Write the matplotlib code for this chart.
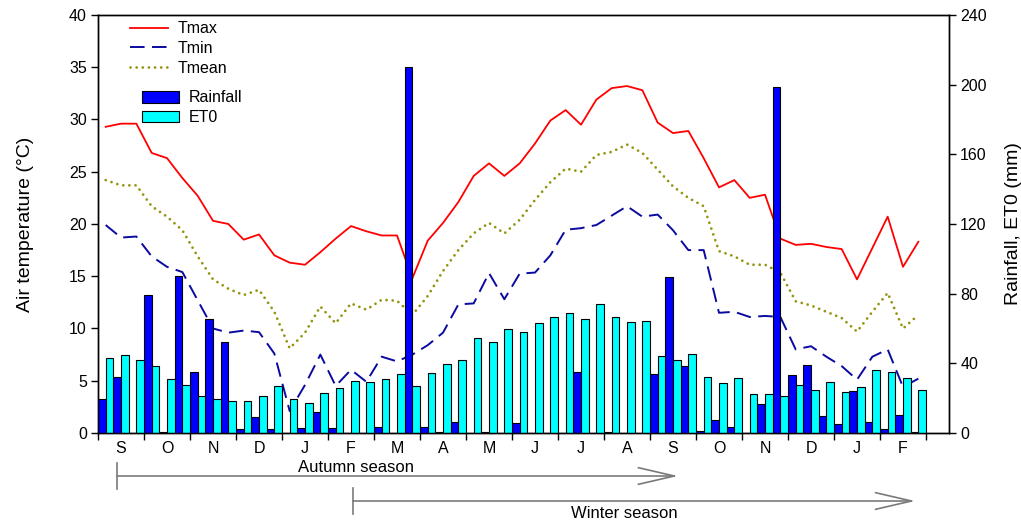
import matplotlib
matplotlib.use("Agg")
import matplotlib.pyplot as plt
import matplotlib.transforms as mtransforms
from matplotlib.lines import Line2D
from matplotlib.patches import Patch, FancyArrowPatch
import numpy as np

plt.rcParams['font.family'] = ['Liberation Sans', 'DejaVu Sans']

# dekadal (10-day) data, Sept (year 1) to Feb (year 3)
months = ['S', 'O', 'N', 'D', 'J', 'F', 'M', 'A', 'M', 'J', 'J', 'A',
          'S', 'O', 'N', 'D', 'J', 'F']

tmax = [29.3, 29.6, 29.6, 26.8, 26.3, 24.4, 22.7, 20.3, 20.0, 18.5, 19.0, 17.0,
        16.3, 16.1, 17.3, 18.6, 19.8, 19.3, 18.9, 18.9, 14.8, 18.4, 20.1, 22.1,
        24.6, 25.8, 24.6, 25.8, 27.7, 29.9, 30.9, 29.5, 31.9, 33.0, 33.2, 32.8,
        29.7, 28.7, 28.9, 26.3, 23.5, 24.2, 22.5, 22.8, 18.6, 18.0, 18.1, 17.8,
        17.6, 14.7, 17.7, 20.7, 15.9, 18.3]

tmin = [19.9, 18.7, 18.8, 16.9, 15.9, 15.4, 12.7, 10.0, 9.6, 9.8, 9.65, 7.6,
        2.1, 4.6, 7.5, 4.5, 6.05, 4.9, 7.3, 6.85, 7.5, 8.4, 9.6, 12.3,
        12.4, 15.3, 12.8, 15.25, 15.35, 17.0, 19.45, 19.6, 19.9, 20.8, 21.7, 20.7,
        20.9, 19.4, 17.5, 17.5, 11.5, 11.6, 11.1, 11.2, 11.1, 8.0, 8.3, 7.3,
        6.4, 5.1, 7.3, 8.0, 4.4, 5.2]

tmean = [24.2, 23.7, 23.7, 21.7, 20.7, 19.4, 16.9, 14.7, 13.8, 13.2, 13.7, 11.6,
         8.1, 9.6, 12.1, 10.5, 12.4, 11.8, 12.75, 12.65, 11.3, 13.1, 15.5, 17.5,
         19.1, 20.1, 19.1, 20.4, 22.3, 24.0, 25.3, 25.0, 26.6, 26.9, 27.6, 26.8,
         25.2, 23.6, 22.5, 21.7, 17.4, 16.9, 16.1, 16.1, 15.35, 12.6, 12.2, 11.6,
         11.0, 9.7, 11.6, 13.4, 10.0, 11.3]

rainfall = [19.3, 32.1, 0, 79.4, 0.4, 89.9, 35.0, 65.6, 52.2, 2.5, 9.0, 2.5,
            0, 2.9, 12.3, 3.1, 0, 0, 3.4, 0, 210, 3.6, 0.8, 6.5,
            0, 0.8, 0, 5.7, 0, 0, 0, 34.8, 0, 0.4, 0, 0,
            33.9, 89.7, 38.6, 1.0, 7.3, 3.4, 0, 16.6, 198.5, 33.3, 39.2, 9.9,
            5.4, 23.9, 6.1, 2.5, 10.1, 0.8]

et0 = [43.0, 45.0, 41.7, 38.5, 31.2, 27.7, 21.4, 19.5, 18.6, 18.6, 21.4, 26.8,
       19.3, 17.4, 23.1, 26.0, 29.8, 29.3, 31.1, 33.7, 26.8, 34.2, 39.6, 41.9,
       54.5, 52.0, 59.5, 58.0, 63.1, 66.4, 69.0, 65.5, 74.0, 66.4, 63.5, 64.2,
       44.4, 42.1, 45.3, 31.9, 28.7, 31.4, 22.4, 22.4, 21.4, 27.7, 24.5, 29.1,
       23.3, 26.2, 36.3, 35.2, 31.6, 24.5]

n = len(tmax)
x = np.arange(n)

fig = plt.figure(figsize=(10.21, 5.24), dpi=100)
ax = fig.add_axes([0.096, 0.1737, 0.8335, 0.7977])
ax2 = ax.twinx()

# temperature lines (left axis)
ax.plot(x + 0.5, tmax, color='#ff0000', lw=1.3, label='Tmax')
ax.plot(x + 0.5, tmin, color='#0a0aa0', lw=1.4, linestyle=(0, (7.5, 3.8)), label='Tmin')
ax.plot(x + 0.5, tmean, color='#949410', lw=2.0, linestyle=(0, (0.01, 2.2)),
        dash_capstyle='round', label='Tmean')

# rainfall and ET0 bars (right axis)
ax2.bar(x + 0.25, rainfall, width=0.5, color='#0000ff', edgecolor='black', lw=0.8)
ax2.bar(x + 0.75, et0, width=0.5, color='#00ffff', edgecolor='black', lw=0.8)

ax.set_xlim(0, 55.5)
ax.set_ylim(0, 40)
ax2.set_ylim(0, 240)
ax.set_yticks(np.arange(0, 41, 5))
ax2.set_yticks(np.arange(0, 241, 40))

ax.set_xticks(np.arange(0, n + 1, 3))
ax.set_xticklabels([])
ax.set_xticks(np.arange(len(months)) * 3 + 1.5, minor=True)
ax.set_xticklabels(months, minor=True)
ax.tick_params(axis='x', which='major', direction='out', length=5, width=1)
ax.tick_params(axis='x', which='minor', length=0, pad=6, labelsize=11.5)
ax.tick_params(axis='y', direction='out', length=5, width=1, labelsize=11.5, pad=3)
ax2.tick_params(axis='y', direction='out', length=5, width=1, labelsize=11.5, pad=3)

ax.set_ylabel('Air temperature (°C)', fontsize=14, labelpad=25)
ax2.set_ylabel('Rainfall, ET0 (mm)', fontsize=14, labelpad=13)

for a in (ax, ax2):
    for s in a.spines.values():
        s.set_linewidth(1.0)

# legends
line_handles = [Line2D([], [], color='#ff0000', lw=1.3),
                Line2D([], [], color='#0a0aa0', lw=1.4, linestyle=(0, (7.5, 3.8))),
                Line2D([], [], color='#949410', lw=2.0, linestyle=(0, (0.01, 2.2)),
                       dash_capstyle='round')]
leg1 = ax2.legend(line_handles, ['Tmax', 'Tmin', 'Tmean'], loc='upper left',
                  bbox_to_anchor=(0.0376, 0.985), frameon=False, fontsize=11.5,
                  handlelength=2.4, handletextpad=0.55, labelspacing=0.3,
                  borderpad=0, borderaxespad=0)
ax2.add_artist(leg1)
bar_handles = [Patch(facecolor='#0000ff', edgecolor='black', lw=0.8),
               Patch(facecolor='#00ffff', edgecolor='black', lw=0.8)]
ax2.legend(bar_handles, ['Rainfall', 'ET0'], loc='upper left',
           bbox_to_anchor=(0.0517, 0.82), frameon=False, fontsize=11.5,
           handlelength=2.3, handleheight=0.75, handletextpad=0.6, labelspacing=0.3,
           borderpad=0, borderaxespad=0)

# season arrows under the axis
trans = mtransforms.blended_transform_factory(ax.transData, fig.transFigure)
seasons = [('Autumn season', 1.24, 37.83, 1 - 476 / 524, 16.8, 1 - 467 / 524),
           ('Winter season', 16.63, 53.3, 1 - 501 / 524, 34.3, 1 - 514 / 524)]
for name, x0, x1, yy, xt, yt in seasons:
    arr = FancyArrowPatch((x0, yy), (x1, yy), transform=trans,
                          arrowstyle='->,head_length=1.3,head_width=0.3',
                          mutation_scale=20, color='#7a7a7a', lw=1.2,
                          shrinkA=0, shrinkB=0, clip_on=False)
    fig.add_artist(arr)
    fig.add_artist(Line2D([x0, x0], [yy - 13 / 524, yy + 13 / 524], transform=trans,
                          color='#7a7a7a', lw=1.2))
    fig.text(xt, yt, name, transform=trans, ha='center', va='center', fontsize=12)

fig.savefig('out.png', dpi=100)
